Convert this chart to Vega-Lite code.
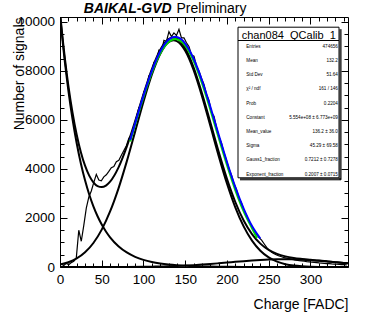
{
  "$schema": "https://vega.github.io/schema/vega-lite/v6.json",
  "autosize": {"type": "none"},
  "padding": {"left": 60, "top": 17, "right": 20, "bottom": 52},
  "width": 288,
  "height": 250,
  "background": "white",
  "config": {
    "font": "Liberation Sans",
    "view": {"stroke": "black", "strokeWidth": 1},
    "axis": {"grid": false, "domain": false, "labelColor": "black", "titleColor": "black", "tickColor": "black", "labelFont": "Liberation Sans", "titleFont": "Liberation Sans"}
  },
  "datasets": {
    "hist": [
      {"x":1.5,"n":120},{"x":4.5,"n":60},{"x":7.5,"n":150},{"x":10.5,"n":90},{"x":13.5,"n":180},{"x":16.5,"n":230},{"x":19.5,"n":360},
      {"x":22.5,"n":1500},{"x":25.5,"n":1050},{"x":28.5,"n":1700},{"x":31.5,"n":2400},{"x":34.5,"n":2850},{"x":37.5,"n":3100},{"x":40.5,"n":3450},
      {"x":43.5,"n":3780},{"x":46.5,"n":3550},{"x":49.5,"n":3520},{"x":52.5,"n":3680},{"x":55.5,"n":3760},{"x":58.5,"n":3900},{"x":61.5,"n":4050},
      {"x":64.5,"n":4100},{"x":67.5,"n":4300},{"x":70.5,"n":4350},{"x":73.5,"n":4560},{"x":76.5,"n":4750},{"x":79.5,"n":4950},{"x":82.5,"n":5250},
      {"x":85.5,"n":5400},{"x":88.5,"n":5700},{"x":91.5,"n":6100},{"x":94.5,"n":6500},{"x":97.5,"n":6650},{"x":100.5,"n":7150},{"x":103.5,"n":7300},
      {"x":106.5,"n":7800},{"x":109.5,"n":7900},{"x":112.5,"n":8350},{"x":115.5,"n":8450},{"x":118.5,"n":8850},{"x":121.5,"n":8800},{"x":124.5,"n":9250},
      {"x":127.5,"n":9200},{"x":130.5,"n":9600},{"x":133.5,"n":9400},{"x":136.5,"n":9550},{"x":139.5,"n":9450},{"x":142.5,"n":9700},{"x":145.5,"n":9350},
      {"x":148.5,"n":9350},{"x":151.5,"n":9150},{"x":154.5,"n":9000},{"x":157.5,"n":8650},{"x":160.5,"n":8600},{"x":163.5,"n":8200},{"x":166.5,"n":8000},
      {"x":169.5,"n":7700},{"x":172.5,"n":7450},{"x":175.5,"n":7050},{"x":178.5,"n":6800},{"x":181.5,"n":6300},{"x":184.5,"n":6150},{"x":187.5,"n":5700},
      {"x":190.5,"n":5300},{"x":193.5,"n":5050},{"x":196.5,"n":4650},{"x":199.5,"n":4350},{"x":202.5,"n":4000},{"x":205.5,"n":3750},{"x":208.5,"n":3400},
      {"x":211.5,"n":3150},{"x":214.5,"n":2800},{"x":217.5,"n":2600},{"x":220.5,"n":2300},{"x":223.5,"n":2100},{"x":226.5,"n":1850},{"x":229.5,"n":1680},
      {"x":232.5,"n":1500},{"x":235.5,"n":1330},{"x":238.5,"n":1200},{"x":241.5,"n":1100},{"x":244.5,"n":950},{"x":247.5,"n":800},{"x":250.5,"n":690},
      {"x":253.5,"n":600},{"x":256.5,"n":540},{"x":259.5,"n":490},{"x":262.5,"n":450},{"x":265.5,"n":420},{"x":268.5,"n":380},{"x":271.5,"n":360},
      {"x":274.5,"n":340},{"x":277.5,"n":310},{"x":280.5,"n":300},{"x":283.5,"n":280},{"x":286.5,"n":260},{"x":289.5,"n":250},{"x":292.5,"n":235},
      {"x":295.5,"n":220},{"x":298.5,"n":210},{"x":301.5,"n":195},{"x":304.5,"n":185},{"x":307.5,"n":175},{"x":310.5,"n":165},{"x":313.5,"n":160},
      {"x":316.5,"n":150},{"x":319.5,"n":140},{"x":322.5,"n":135},{"x":325.5,"n":125},{"x":328.5,"n":120},{"x":331.5,"n":112},{"x":334.5,"n":105},
      {"x":337.5,"n":100},{"x":340.5,"n":95},{"x":343.5,"n":90}
    ],
    "fit": [
      {"c":"total","x":0,"y":10402},{"c":"total","x":2,"y":9708},{"c":"total","x":4,"y":9064},{"c":"total","x":6,"y":8467},{"c":"total","x":8,"y":7915},
      {"c":"total","x":10,"y":7404},{"c":"total","x":15,"y":6295},{"c":"total","x":20,"y":5397},{"c":"total","x":25,"y":4683},{"c":"total","x":30,"y":4133},
      {"c":"total","x":35,"y":3727},{"c":"total","x":40,"y":3455},{"c":"total","x":45,"y":3300},{"c":"total","x":50,"y":3260},{"c":"total","x":55,"y":3321},
      {"c":"total","x":60,"y":3480},{"c":"total","x":70,"y":4053},{"c":"total","x":80,"y":4909},{"c":"total","x":90,"y":5947},{"c":"total","x":100,"y":7046},
      {"c":"total","x":110,"y":8064},{"c":"total","x":120,"y":8855},{"c":"total","x":130,"y":9300},{"c":"total","x":135,"y":9368},{"c":"total","x":140,"y":9327},
      {"c":"total","x":150,"y":8925},{"c":"total","x":160,"y":8149},{"c":"total","x":170,"y":7101},{"c":"total","x":180,"y":5912},{"c":"total","x":190,"y":4708},
      {"c":"total","x":200,"y":3597},{"c":"total","x":210,"y":2652},{"c":"total","x":220,"y":1900},{"c":"total","x":230,"y":1344},{"c":"total","x":240,"y":953},
      {"c":"total","x":250,"y":696},{"c":"total","x":260,"y":533},{"c":"total","x":270,"y":433},{"c":"total","x":280,"y":370},{"c":"total","x":290,"y":328},
      {"c":"total","x":300,"y":293},{"c":"total","x":310,"y":261},{"c":"total","x":320,"y":230},{"c":"total","x":330,"y":199},{"c":"total","x":340,"y":168},
      {"c":"total","x":345,"y":154},
      {"c":"exp","x":0,"y":10300},{"c":"exp","x":2,"y":9592},{"c":"exp","x":4,"y":8931},{"c":"exp","x":6,"y":8316},{"c":"exp","x":8,"y":7744},
      {"c":"exp","x":10,"y":7211},{"c":"exp","x":15,"y":6034},{"c":"exp","x":20,"y":5049},{"c":"exp","x":25,"y":4224},{"c":"exp","x":30,"y":3535},
      {"c":"exp","x":35,"y":2957},{"c":"exp","x":40,"y":2475},{"c":"exp","x":45,"y":2071},{"c":"exp","x":50,"y":1733},{"c":"exp","x":55,"y":1450},
      {"c":"exp","x":60,"y":1213},{"c":"exp","x":70,"y":850},{"c":"exp","x":80,"y":595},{"c":"exp","x":90,"y":416},{"c":"exp","x":100,"y":291},
      {"c":"exp","x":110,"y":204},{"c":"exp","x":120,"y":143},{"c":"exp","x":130,"y":100},{"c":"exp","x":140,"y":70},{"c":"exp","x":150,"y":49},
      {"c":"exp","x":160,"y":34},{"c":"exp","x":170,"y":24},{"c":"exp","x":180,"y":17},{"c":"exp","x":190,"y":12},{"c":"exp","x":200,"y":8},
      {"c":"exp","x":220,"y":4},{"c":"exp","x":240,"y":2},{"c":"exp","x":260,"y":1},{"c":"exp","x":300,"y":0},{"c":"exp","x":345,"y":0},
      {"c":"gauss","x":0,"y":102},{"c":"gauss","x":10,"y":193},{"c":"gauss","x":20,"y":348},{"c":"gauss","x":30,"y":598},{"c":"gauss","x":40,"y":980},
      {"c":"gauss","x":50,"y":1526},{"c":"gauss","x":60,"y":2265},{"c":"gauss","x":70,"y":3200},{"c":"gauss","x":80,"y":4309},{"c":"gauss","x":90,"y":5524},
      {"c":"gauss","x":100,"y":6745},{"c":"gauss","x":110,"y":7845},{"c":"gauss","x":120,"y":8690},{"c":"gauss","x":130,"y":9169},{"c":"gauss","x":136,"y":9250},
      {"c":"gauss","x":140,"y":9214},{"c":"gauss","x":150,"y":8818},{"c":"gauss","x":160,"y":8039},{"c":"gauss","x":170,"y":6979},{"c":"gauss","x":180,"y":5772},
      {"c":"gauss","x":190,"y":4545},{"c":"gauss","x":200,"y":3409},{"c":"gauss","x":210,"y":2436},{"c":"gauss","x":220,"y":1657},{"c":"gauss","x":230,"y":1075},
      {"c":"gauss","x":240,"y":663},{"c":"gauss","x":250,"y":390},{"c":"gauss","x":260,"y":218},{"c":"gauss","x":270,"y":116},{"c":"gauss","x":280,"y":59},
      {"c":"gauss","x":290,"y":29},{"c":"gauss","x":300,"y":13},{"c":"gauss","x":310,"y":5},{"c":"gauss","x":320,"y":2},{"c":"gauss","x":330,"y":1},
      {"c":"gauss","x":345,"y":0},
      {"c":"bump","x":0,"y":0},{"c":"bump","x":50,"y":1},{"c":"bump","x":80,"y":4},{"c":"bump","x":100,"y":10},{"c":"bump","x":110,"y":15},
      {"c":"bump","x":120,"y":22},{"c":"bump","x":130,"y":31},{"c":"bump","x":140,"y":43},{"c":"bump","x":150,"y":58},{"c":"bump","x":160,"y":76},
      {"c":"bump","x":170,"y":98},{"c":"bump","x":180,"y":123},{"c":"bump","x":190,"y":151},{"c":"bump","x":200,"y":180},{"c":"bump","x":210,"y":210},
      {"c":"bump","x":220,"y":239},{"c":"bump","x":230,"y":266},{"c":"bump","x":240,"y":288},{"c":"bump","x":250,"y":305},{"c":"bump","x":260,"y":314},
      {"c":"bump","x":270,"y":317},{"c":"bump","x":280,"y":311},{"c":"bump","x":290,"y":299},{"c":"bump","x":300,"y":280},{"c":"bump","x":310,"y":256},
      {"c":"bump","x":320,"y":228},{"c":"bump","x":330,"y":198},{"c":"bump","x":340,"y":168},{"c":"bump","x":345,"y":154},
      {"c":"green","x":84,"y":5120},{"c":"green","x":90,"y":5810},{"c":"green","x":100,"y":6930},{"c":"green","x":110,"y":7930},{"c":"green","x":120,"y":8710},
      {"c":"green","x":130,"y":9180},{"c":"green","x":138,"y":9300},{"c":"green","x":150,"y":9030},{"c":"green","x":160,"y":8410},{"c":"green","x":170,"y":7510},
      {"c":"green","x":180,"y":6430},{"c":"green","x":190,"y":5280},{"c":"green","x":200,"y":4160},{"c":"green","x":210,"y":3140},{"c":"green","x":220,"y":2270},
      {"c":"green","x":230,"y":1580},{"c":"green","x":236,"y":1180},
      {"c":"blue","x":84,"y":5180},{"c":"blue","x":90,"y":5868},{"c":"blue","x":100,"y":6994},{"c":"blue","x":110,"y":8001},{"c":"blue","x":120,"y":8789},
      {"c":"blue","x":130,"y":9268},{"c":"blue","x":138,"y":9390},{"c":"blue","x":150,"y":9118},{"c":"blue","x":160,"y":8507},{"c":"blue","x":170,"y":7619},
      {"c":"blue","x":180,"y":6551},{"c":"blue","x":190,"y":5408},{"c":"blue","x":200,"y":4286},{"c":"blue","x":210,"y":3260},{"c":"blue","x":220,"y":2381},
      {"c":"blue","x":230,"y":1670},{"c":"blue","x":240,"y":1160}
    ],
    "stats": [
      {"name":"Entries","val":"474656"},
      {"name":"Mean","val":"132.2"},
      {"name":"Std Dev","val":"51.64"},
      {"name":"χ² / ndf","val":"161 / 146"},
      {"name":"Prob","val":"0.2204"},
      {"name":"Constant","val":"5.554e+08 ± 6.773e+09"},
      {"name":"Mean_value","val":"136.2 ± 36.0"},
      {"name":"Sigma","val":"45.29 ± 69.58"},
      {"name":"Gauss1_fraction","val":"0.7212 ± 0.7278"},
      {"name":"Exponent_fraction","val":"0.2007 ± 0.0715"}
    ],
    "box": [{"b":"box"}]
  },
  "resolve": {"axis": {"x": "independent", "y": "independent"}},
  "layer": [
    {
      "data": {"name": "hist"},
      "mark": {"type": "line", "color": "black", "strokeWidth": 1.2, "clip": true},
      "encoding": {
        "x": {"field": "x", "type": "quantitative", "scale": {"domain": [0, 345], "nice": false, "zero": false},
          "axis": {"orient": "bottom", "values": [0,50,100,150,200,250,300], "ticks": false, "labelFontSize": 13.5, "labelPadding": 5, "labelBaseline": "top", "labelFlush": false, "labelOverlap": false,
            "title": "Charge [FADC]", "titleFontSize": 14, "titleFontWeight": "normal", "titleAlign": "right", "titleBaseline": "alphabetic", "titleX": 288, "titleY": 41}},
        "y": {"field": "n", "type": "quantitative", "scale": {"domain": [0, 10200], "nice": false, "zero": false},
          "axis": {"orient": "left", "values": [0,2000,4000,6000,8000,10000], "format": "d", "ticks": false, "labelFontSize": 13.5, "labelPadding": 5.5, "labelBaseline": "middle", "labelFlush": false, "labelOverlap": false,
            "title": "Number of signals", "titleFontSize": 14, "titleFontWeight": "normal", "titleAngle": -90, "titleAlign": "right", "titleBaseline": "alphabetic", "titleX": -36.5, "titleY": 0}}
      }
    },
    {
      "data": {"name": "fit"},
      "transform": [{"filter": "datum.c === 'total'"}],
      "mark": {"type": "line", "color": "black", "strokeWidth": 2, "interpolate": "monotone", "clip": true},
      "encoding": {
        "x": {"field": "x", "type": "quantitative", "scale": {"domain": [0, 345], "nice": false, "zero": false},
          "axis": {"orient": "bottom", "values": [0,50,100,150,200,250,300], "labels": false, "tickSize": -7, "title": null}},
        "y": {"field": "y", "type": "quantitative", "scale": {"domain": [0, 10200], "nice": false, "zero": false},
          "axis": {"orient": "left", "values": [0,2000,4000,6000,8000,10000], "labels": false, "tickSize": -7, "title": null}}
      }
    },
    {
      "data": {"name": "fit"},
      "transform": [{"filter": "datum.c === 'exp'"}],
      "mark": {"type": "line", "color": "black", "strokeWidth": 2, "interpolate": "monotone", "clip": true},
      "encoding": {
        "x": {"field": "x", "type": "quantitative", "scale": {"domain": [0, 345], "nice": false, "zero": false},
          "axis": {"orient": "bottom", "values": [10,20,30,40,60,70,80,90,110,120,130,140,160,170,180,190,210,220,230,240,260,270,280,290,310,320,330,340], "labels": false, "tickSize": -4, "title": null}},
        "y": {"field": "y", "type": "quantitative", "scale": {"domain": [0, 10200], "nice": false, "zero": false},
          "axis": {"orient": "left", "values": [500,1000,1500,2500,3000,3500,4500,5000,5500,6500,7000,7500,8500,9000,9500], "labels": false, "tickSize": -4, "title": null}}
      }
    },
    {
      "data": {"name": "fit"},
      "transform": [{"filter": "datum.c === 'gauss'"}],
      "mark": {"type": "line", "color": "black", "strokeWidth": 2, "interpolate": "monotone", "clip": true},
      "encoding": {
        "x": {"field": "x", "type": "quantitative", "scale": {"domain": [0, 345], "nice": false, "zero": false},
          "axis": {"orient": "top", "values": [0,50,100,150,200,250,300], "labels": false, "tickSize": -7,
            "title": "BAIKAL-GVD", "titleFontSize": 14, "titleFontWeight": "bold", "titleFontStyle": "italic", "titleAlign": "left", "titleBaseline": "alphabetic", "titleX": 23.3, "titleY": -4.3}},
        "y": {"field": "y", "type": "quantitative", "scale": {"domain": [0, 10200], "nice": false, "zero": false},
          "axis": {"orient": "right", "values": [0,2000,4000,6000,8000,10000], "labels": false, "tickSize": -7, "title": null}}
      }
    },
    {
      "data": {"name": "fit"},
      "transform": [{"filter": "datum.c === 'bump'"}],
      "mark": {"type": "line", "color": "black", "strokeWidth": 2, "interpolate": "monotone", "clip": true},
      "encoding": {
        "x": {"field": "x", "type": "quantitative", "scale": {"domain": [0, 345], "nice": false, "zero": false},
          "axis": {"orient": "top", "values": [10,20,30,40,60,70,80,90,110,120,130,140,160,170,180,190,210,220,230,240,260,270,280,290,310,320,330,340], "labels": false, "tickSize": -4,
            "title": "Preliminary", "titleFontSize": 14, "titleFontWeight": "normal", "titleAlign": "left", "titleBaseline": "alphabetic", "titleX": 116, "titleY": -4.3}},
        "y": {"field": "y", "type": "quantitative", "scale": {"domain": [0, 10200], "nice": false, "zero": false},
          "axis": {"orient": "right", "values": [500,1000,1500,2500,3000,3500,4500,5000,5500,6500,7000,7500,8500,9000,9500], "labels": false, "tickSize": -4, "title": null}}
      }
    },
    {
      "data": {"name": "fit"},
      "transform": [{"filter": "datum.c === 'green'"}],
      "mark": {"type": "line", "color": "#00dd00", "strokeWidth": 2, "interpolate": "monotone", "clip": true},
      "encoding": {
        "x": {"field": "x", "type": "quantitative", "scale": {"domain": [0, 345], "nice": false, "zero": false}, "axis": null},
        "y": {"field": "y", "type": "quantitative", "scale": {"domain": [0, 10200], "nice": false, "zero": false}, "axis": null}
      }
    },
    {
      "data": {"name": "fit"},
      "transform": [{"filter": "datum.c === 'blue'"}],
      "mark": {"type": "line", "color": "#0000ff", "strokeWidth": 2, "interpolate": "monotone", "clip": true},
      "encoding": {
        "x": {"field": "x", "type": "quantitative", "scale": {"domain": [0, 345], "nice": false, "zero": false}, "axis": null},
        "y": {"field": "y", "type": "quantitative", "scale": {"domain": [0, 10200], "nice": false, "zero": false}, "axis": null}
      }
    },
    {
      "data": {"name": "stats"},
      "mark": {"type": "point", "opacity": 0},
      "encoding": {
        "shape": {"field": "name", "type": "nominal", "sort": null,
          "legend": {"orient": "none", "legendX": 181.7, "legendY": 12.5, "padding": 0,
            "title": "chan084_QCalib_1", "titleFont": "Liberation Sans", "titleFontSize": 11, "titleFontWeight": "normal", "titleColor": "black", "titlePadding": 3.9,
            "labelFont": "Liberation Sans", "labelFontSize": 4.6, "labelColor": "black", "labelOffset": 0, "symbolSize": 0, "symbolOpacity": 0, "rowPadding": 9.2}},
        "color": {"field": "val", "type": "nominal", "sort": null, "scale": {"range": ["black"]},
          "legend": {"orient": "none", "legendX": 273.3, "legendY": 27.4, "padding": 0, "title": null,
            "labelFont": "Liberation Sans", "labelFontSize": 4.6, "labelColor": "black", "labelAlign": "right", "labelOffset": 0, "symbolSize": 0, "symbolOpacity": 0, "rowPadding": 9.2}}
      }
    },
    {
      "data": {"name": "box"},
      "mark": {"type": "point", "opacity": 0, "filled": false},
      "encoding": {
        "stroke": {"field": "b", "type": "nominal", "scale": {"range": ["black"]},
          "legend": {"orient": "none", "legendX": 177.5, "legendY": 9.7, "padding": 0, "title": null,
            "symbolType": "M-1,-1H1V1.982H-1ZM-1,-0.7366H1M1.0198,-0.9604V2.0218M1.0396,-0.9604V2.0218M-0.9604,2.002H1.0396M-0.9604,2.0218H1.0396",
            "symbolSize": 10201, "symbolStrokeWidth": 1, "symbolStrokeColor": "black", "symbolFillColor": "transparent", "symbolOpacity": 1,
            "labelExpr": "''", "labelFontSize": 1}}
      }
    }
  ]
}
